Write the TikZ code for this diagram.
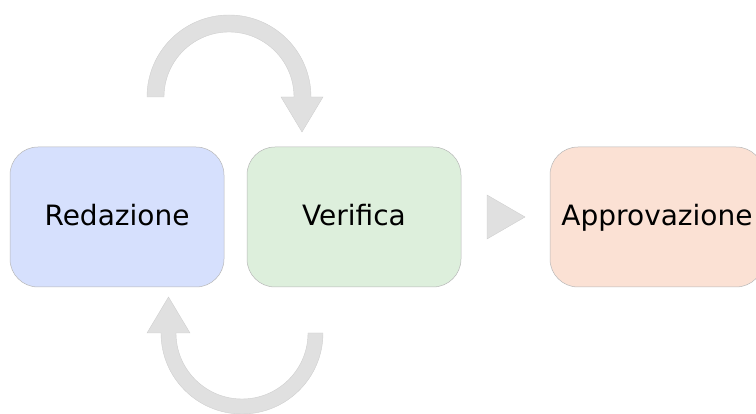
\documentclass[tikz,border=0pt]{standalone}
\usepackage{fontspec}
\setmainfont{DejaVu Sans}
\definecolor{arrowgray}{HTML}{E0E0E0}
\definecolor{arrowedge}{HTML}{CFCFCF}
\definecolor{boxedge}{HTML}{B8B8B8}
\definecolor{blueish}{HTML}{D6E0FD}
\definecolor{greenish}{HTML}{DDEFDC}
\definecolor{orangeish}{HTML}{FBE1D4}
\tikzset{
  stagebox/.style={draw=boxedge, line width=0.5pt, rounded corners=28pt,
    minimum width=214pt, minimum height=140pt, inner sep=0pt,
    text height=18pt, text depth=0pt,
    font=\fontsize{28}{32}\selectfont, text=black},
  grayarrow/.style={fill=arrowgray, draw=arrowedge, line width=0.4pt},
}
\begin{document}
\begin{tikzpicture}[x=1pt,y=1pt]
\useasboundingbox (0,0) rectangle (756,414);
\node[stagebox, fill=blueish] (red) at (117,197) {Redazione};
\node[stagebox, fill=greenish] (ver) at (354,197) {Verifica};
\begin{scope}
\clip (0,0) rectangle (756,414);
\node[stagebox, fill=orangeish] (app) at (657,197) {Approvazione};
\end{scope}
% top loop arrow
\path[grayarrow] (147,317) arc[start angle=180, end angle=0, radius=82]
  -- (323,317) -- (302,282) -- (281,317) -- (294,317)
  arc[start angle=0, end angle=180, radius=65] -- cycle;
% bottom loop arrow
\path[grayarrow] (323,81) arc[start angle=0, end angle=-180, radius=81]
  -- (147,81) -- (168.5,117) -- (190,81) -- (176,81)
  arc[start angle=-180, end angle=0, radius=66] -- cycle;
% forward triangle
\path[grayarrow] (487,219) -- (525,197) -- (487,175) -- cycle;
\end{tikzpicture}
\end{document}
